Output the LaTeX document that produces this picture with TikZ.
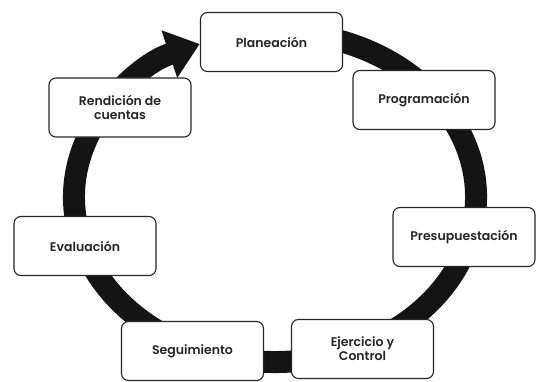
\documentclass[tikz,border=0pt]{standalone}
\usepackage{fontspec}
\setmainfont{Poppins}[BoldFont={Poppins SemiBold}]
\usetikzlibrary{arrows.meta}
\begin{document}
\begin{tikzpicture}[x=1pt,y=1pt,
  stagebox/.style={draw=black!85, line width=1.1pt, fill=white, rounded corners=7pt,
    minimum width=142pt, minimum height=59pt, align=center, inner sep=2pt,
    font=\fontsize{12.5}{14}\selectfont\bfseries, text=black!85}]
\useasboundingbox (0,0) rectangle (540,381);
\fill[white] (0,0) rectangle (540,381);
% cycle ring
\coordinate (c) at (275,184);
\draw[line width=22pt, black!92, -{Triangle[length=32pt,width=48pt]}]
  ([shift={(75:201pt and 165pt)}]c) arc[start angle=75, end angle=-248, x radius=201pt, y radius=165pt];
% stages
\node[stagebox] (plan) at (271.5,339) {Planeación};
\node[stagebox] (prog) at (424,281) {Programación};
\node[stagebox] (pres) at (464,144) {Presupuestación};
\node[stagebox] (ejer) at (362.5,32) {Ejercicio y\\Control};
\node[stagebox] (segu) at (192.5,30) {Seguimiento};
\node[stagebox] (eval) at (85,135) {Evaluación};
\node[stagebox] (rend) at (120,273.5) {Rendición de\\cuentas};
\end{tikzpicture}
\end{document}
